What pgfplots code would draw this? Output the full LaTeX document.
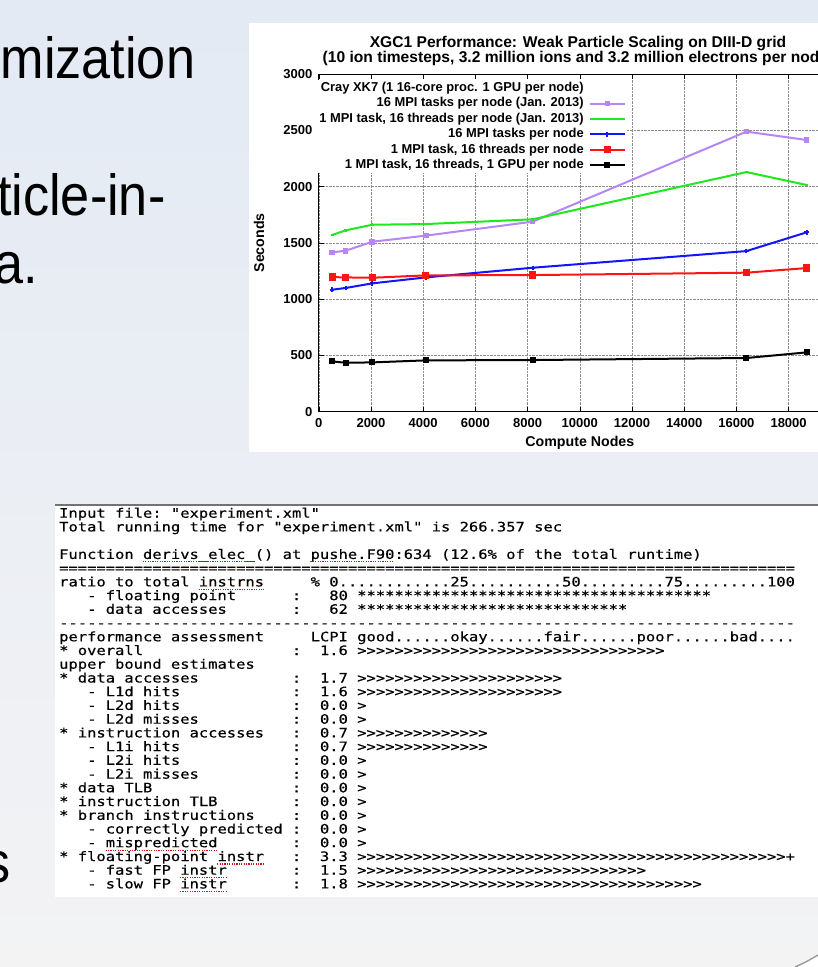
\documentclass[border=0pt]{standalone}
\usepackage{pgfplots}
\pgfplotsset{compat=1.18}
\usepackage{fontspec}
\setmainfont{Liberation Sans}
\newfontfamily\chartfont{Liberation Sans}
\newfontfamily\slidefont[FakeStretch=0.9]{Liberation Sans}
\newfontfamily\monofont[FakeStretch=1.19,FakeBold=0.4,Ligatures=TeXOff]{DejaVu Sans Mono}
\definecolor{cpurple}{RGB}{182,135,242}
\definecolor{cgreen}{RGB}{30,232,30}
\definecolor{cblue}{RGB}{20,20,255}
\definecolor{cred}{RGB}{255,20,20}
\definecolor{bgtop}{RGB}{227,234,244}
\definecolor{bgbot}{RGB}{243,243,244}
\newcommand\mono{\monofont\fontsize{13}{13}\selectfont\frenchspacing}
\newlength\cw
\newcount\repcnt
\newcommand\rep[2]{\repcnt=#1\relax\loop\ifnum\repcnt>0 #2\advance\repcnt-1\relax\repeat}
\newcommand\spc[1]{\hspace*{#1\cw}}
\newcommand\ml[2]{\node[anchor=base west, inner sep=0pt] at (59,#1) {\mono #2};}
\newcommand\squig[3]{\draw[cred!85!black, line width=1.1pt, dash pattern=on 1.2pt off 1.2pt] ({59+#2*9.31},{#1+3}) -- ({59+(#2+#3)*9.31},{#1+3});}
\begin{document}
\settowidth\cw{\mono 0}%
\begingroup\mono\global\fontdimen2\font=\cw\global\fontdimen3\font=0pt\global\fontdimen4\font=0pt\endgroup%
\begin{tikzpicture}
\path[use as bounding box] (0pt,0pt) rectangle (818pt,-967pt);
\clip (0pt,0pt) rectangle (818pt,-967pt);
\shade[top color=bgtop, bottom color=bgbot] (0pt,0pt) rectangle (818pt,-967pt);
\begin{scope}[x=1pt,y=-1pt]
 % chart panel
 \fill[white] (249,23) rectangle (830,452);
 % slide text
 \node[anchor=base west, inner sep=0pt] at (0.5,78) {\slidefont\fontsize{58}{58}\selectfont mization};
 \node[anchor=base west, inner sep=0pt] at (-3,215) {\slidefont\fontsize{58}{58}\selectfont ticle-in-};
 \node[anchor=base west, inner sep=0pt] at (-6,283) {\slidefont\fontsize{58}{58}\selectfont a.};
 \node[anchor=base east, inner sep=0pt] at (10.5,882) {\slidefont\fontsize{58}{58}\selectfont s};
 % chart title
 \node[anchor=base, inner sep=0pt] at (578,47.5) {\chartfont\bfseries\fontsize{15.6}{15.6}\selectfont XGC1 Performance: Weak Particle Scaling on DIII-D grid};
 \node[anchor=base, inner sep=0pt] at (578,62.3) {\chartfont\bfseries\fontsize{15.6}{15.6}\selectfont (10 ion timesteps, 3.2 million ions and 3.2 million electrons per node)};
 % text panel
 \fill[white] (55,505) rectangle (830,897);
 \draw[black!55, line width=1.3pt] (55,505) -- (830,505);
 \ml{517.7}{Input file: "experiment.xml"}
 \ml{531.4}{Total running time for "experiment.xml" is 266.357 sec}
 \ml{558.9}{Function derivs\_elec\_() at pushe.F90:634 (12.6\% of the total runtime)}
 \ml{572.6}{\rep{79}{=}}
 \ml{586.4}{ratio to total instrns\spc{5}\%\spc{1}0\rep{12}{.}25\rep{10}{.}50\rep{9}{.}75\rep{9}{.}100}
 \ml{600.1}{\spc{3}- floating point\spc{6}:\spc{3}80 \rep{38}{*}}
 \ml{613.8}{\spc{3}- data accesses\spc{7}:\spc{3}62 \rep{29}{*}}
 \ml{627.5}{\rep{79}{-}}
 \ml{641.3}{performance assessment\spc{5}LCPI good......okay......fair......poor......bad....}
 \ml{655.0}{* overall\spc{16}:\spc{2}1.6 \rep{33}{>}}
 \ml{668.7}{upper bound estimates}
 \ml{682.5}{* data accesses\spc{10}:\spc{2}1.7 \rep{22}{>}}
 \ml{696.2}{\spc{3}- L1d hits\spc{12}:\spc{2}1.6 \rep{22}{>}}
 \ml{709.9}{\spc{3}- L2d hits\spc{12}:\spc{2}0.0 >}
 \ml{723.7}{\spc{3}- L2d misses\spc{10}:\spc{2}0.0 >}
 \ml{737.4}{* instruction accesses\spc{3}:\spc{2}0.7 \rep{14}{>}}
 \ml{751.1}{\spc{3}- L1i hits\spc{12}:\spc{2}0.7 \rep{14}{>}}
 \ml{764.8}{\spc{3}- L2i hits\spc{12}:\spc{2}0.0 >}
 \ml{778.6}{\spc{3}- L2i misses\spc{10}:\spc{2}0.0 >}
 \ml{792.3}{* data TLB\spc{15}:\spc{2}0.0 >}
 \ml{806.0}{* instruction TLB\spc{8}:\spc{2}0.0 >}
 \ml{819.8}{* branch instructions\spc{4}:\spc{2}0.0 >}
 \ml{833.5}{\spc{3}- correctly predicted :\spc{2}0.0 >}
 \ml{847.2}{\spc{3}- mispredicted\spc{8}:\spc{2}0.0 >}
 \ml{861.0}{* floating-point instr\spc{3}:\spc{2}3.3 \rep{46}{>}+}
 \ml{874.7}{\spc{3}- fast FP instr\spc{7}:\spc{2}1.5 \rep{31}{>}}
 \ml{888.4}{\spc{3}- slow FP instr\spc{7}:\spc{2}1.8 \rep{37}{>}}
 \squig{558.9}{9}{12}
 \squig{558.9}{27}{9}
 \squig{586.4}{15}{7}
 \squig{847.2}{5}{12}
 \squig{861.0}{17}{5}
 \squig{874.7}{13}{5}
 \squig{888.4}{13}{5}
 % page curl
 \fill[white] (795,967) .. controls (806,962) .. (818,955) -- (818,967) -- cycle;
 \draw[black!40, line width=1.4pt] (795,967) .. controls (806,962) .. (818,955);
\end{scope}
\begin{axis}[
  at={(318.8pt,-411.7pt)}, anchor=south west,
  scale only axis, width=522pt, height=337.7pt,
  xmin=0, xmax=20000, ymin=0, ymax=3000,
  xtick={0,2000,...,20000}, ytick={0,500,...,3000},
  grid=major, grid style={densely dotted, line width=0.5pt, black!45},
  axis line style={line width=0.8pt},
  tick align=inside, major tick length=5pt,
  tick style={line width=0.6pt, black},
  /pgf/number format/assume math mode=true,
  /pgf/number format/1000 sep={},
  scaled ticks=false,
  tick label style={font=\chartfont\bfseries\fontsize{13}{13}\selectfont},
  xticklabel style={yshift=-3.6pt},
  yticklabel style={xshift=-3pt},
  xlabel={Compute Nodes}, ylabel={Seconds},
  every axis x label/.style={at={(axis description cs:0.5,-0.0927)}, anchor=center,
    font=\chartfont\bfseries\fontsize{14.2}{14.2}\selectfont},
  every axis y label/.style={at={(axis description cs:-0.1146,0.5)}, anchor=center, rotate=90,
    font=\chartfont\bfseries\fontsize{14.2}{14.2}\selectfont},
  legend cell align=right,
  legend plot pos=right,
  legend style={at={(0.5885,0.981)}, anchor=north east, fill=white, draw=none,
    inner sep=0pt, outer sep=0pt, row sep=0pt, column sep=3.3pt,
    font=\chartfont\bfseries\fontsize{12.9}{12.9}\selectfont,
    nodes={inner xsep=2pt, inner ysep=1.5pt, text height=9.5pt, text depth=2.9pt}},
  legend image code/.code={\draw[mark repeat=2,mark phase=2] plot coordinates {(0pt,0pt) (17.5pt,0pt) (35pt,0pt)};},
]
\addlegendimage{empty legend}
\addlegendentry{Cray XK7 (1 16-core proc. 1 GPU per node)}
\addplot[color=cpurple, line width=2pt, mark=square*, mark size=1.8pt] coordinates {
 (512,1416) (1024,1430) (2048,1510) (4096,1564) (8192,1688) (16384,2488) (18688,2414)};
\addlegendentry{16 MPI tasks per node (Jan. 2013)}
\addplot[color=cgreen, line width=2pt, mark=+, mark size=1.4pt] coordinates {
 (512,1570) (1024,1611) (2048,1661) (4096,1667) (8192,1709) (16384,2129) (18688,2014)};
\addlegendentry{1 MPI task, 16 threads per node (Jan. 2013)}
\addplot[color=cblue, line width=2pt, mark=+, mark size=2.2pt] coordinates {
 (512,1084) (1024,1099) (2048,1140) (4096,1193) (8192,1279) (16384,1427) (18688,1593)};
\addlegendentry{16 MPI tasks per node}
\addplot[color=cred, line width=2pt, mark=square*, mark size=2.6pt] coordinates {
 (512,1196) (1024,1193) (2048,1190) (4096,1211) (8192,1214) (16384,1235) (18688,1276)};
\addlegendentry{1 MPI task, 16 threads per node}
\addplot[color=black, line width=2pt, mark=square*, mark size=2pt] coordinates {
 (512,447) (1024,435) (2048,438) (4096,456) (8192,459) (16384,477) (18688,527)};
\addlegendentry{1 MPI task, 16 threads, 1 GPU per node}
\end{axis}
\end{tikzpicture}
\end{document}
